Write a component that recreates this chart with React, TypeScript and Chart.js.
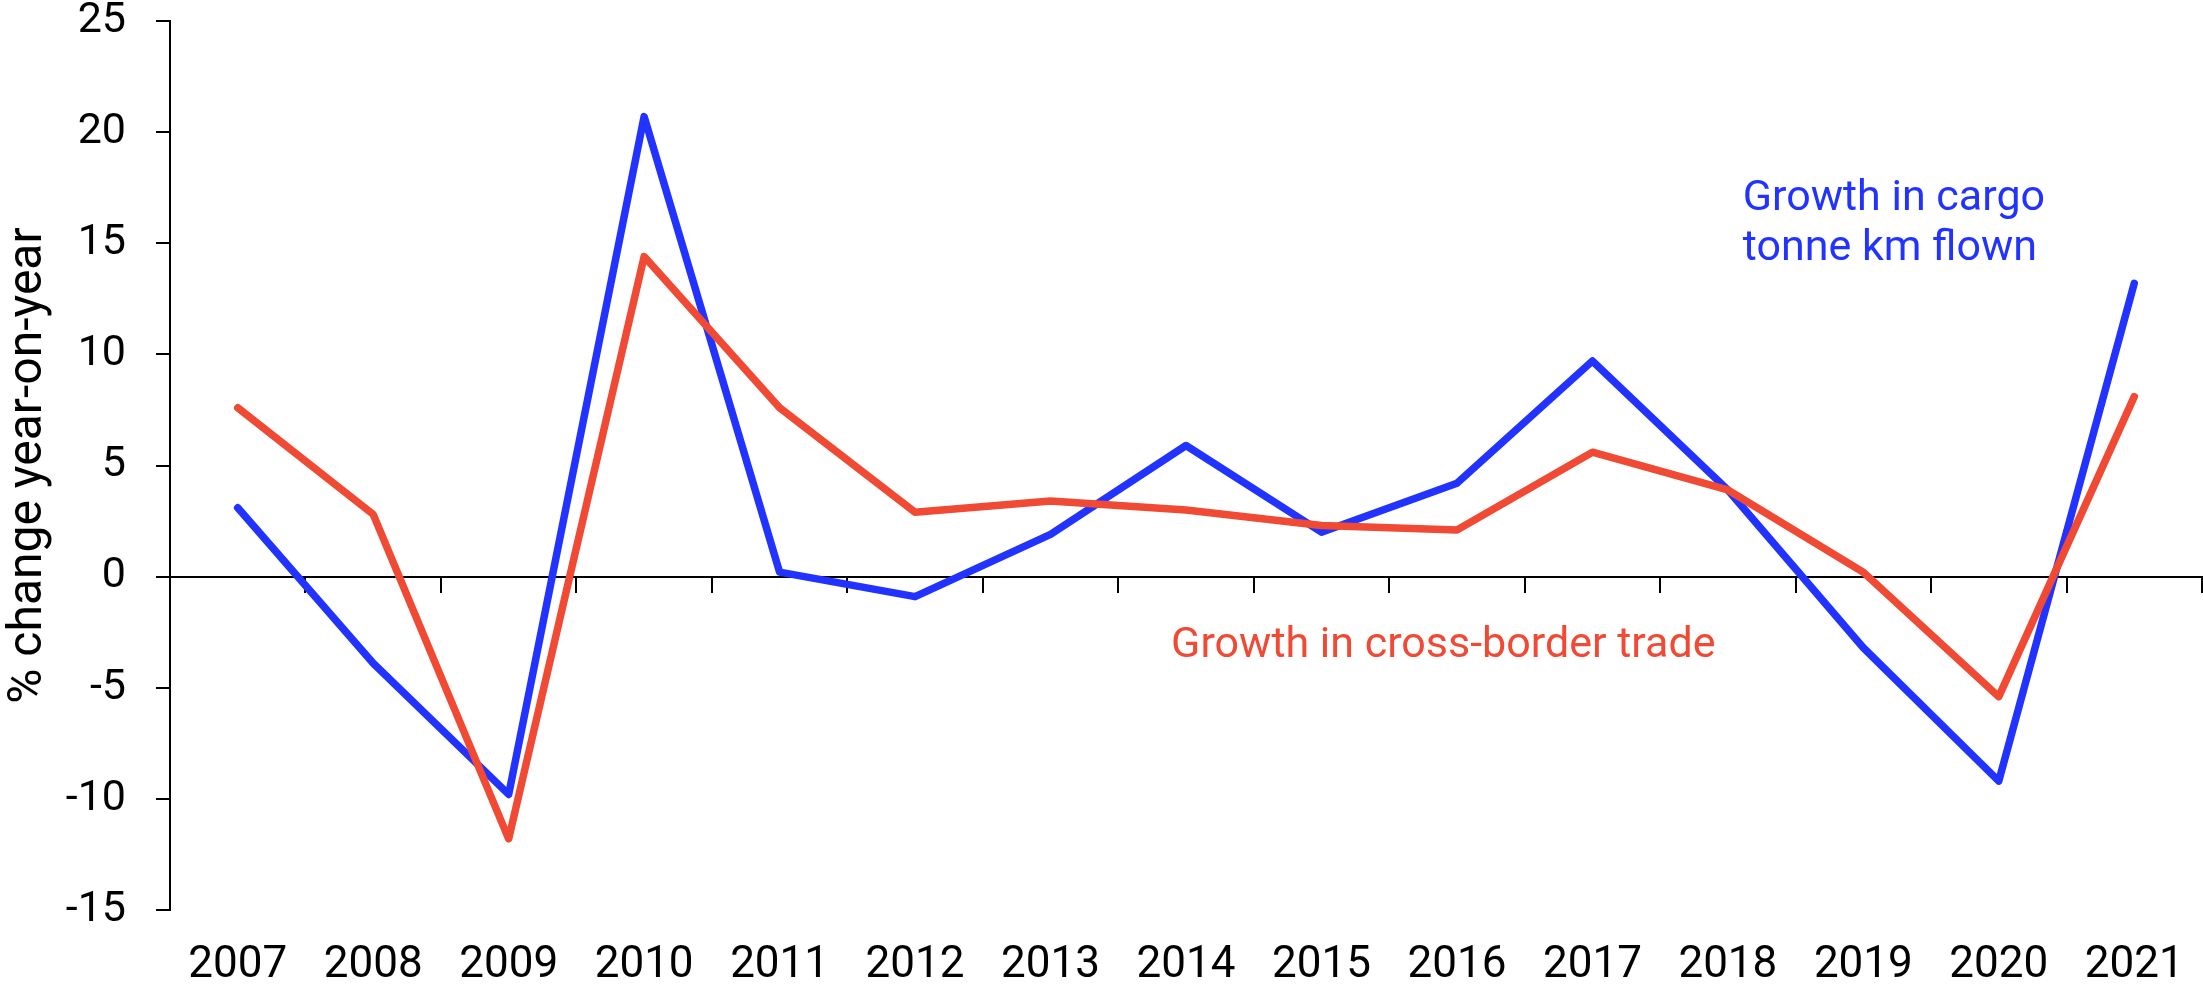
import React, { useEffect, useRef } from "react";
import { Chart, registerables } from "chart.js";

Chart.register(...registerables);

const years = ["2007","2008","2009","2010","2011","2012","2013","2014","2015","2016","2017","2018","2019","2020","2021"];
const cargoGrowth = [3.1, -3.9, -9.8, 20.7, 0.2, -0.9, 1.9, 5.9, 2.0, 4.2, 9.7, 3.9, -3.2, -9.2, 13.2];
const tradeGrowth = [7.6, 2.8, -11.8, 14.4, 7.6, 2.9, 3.4, 3.0, 2.3, 2.1, 5.6, 3.9, 0.2, -5.4, 8.1];
const yTitle = "% change year-on-year";

const BLUE = "#2233FF";
const RED = "#F04934";

const cargoLabelLines = ["Growth in cargo", "tonne km flown"];
const tradeLabelLines = ["Growth in cross-border trade"];

const FONT = "Roboto, 'Liberation Sans', Arial, sans-serif";

const annotationPlugin = {
  id: "lineLabels",
  afterDatasetsDraw(chart: any) {
    const { ctx, scales } = chart;
    const x = scales.x;
    const y = scales.y;
    ctx.save();
    ctx.font = `43px ${FONT}`;
    ctx.textAlign = "left";
    ctx.textBaseline = "alphabetic";
    ctx.fillStyle = BLUE;
    const bx = x.getPixelForValue(11.11);
    const by = y.getPixelForValue(16.5);
    cargoLabelLines.forEach((t, i) => ctx.fillText(t, bx, by + i * 50));
    ctx.fillStyle = RED;
    const rx = x.getPixelForValue(6.89);
    const ry = y.getPixelForValue(-3.6);
    tradeLabelLines.forEach((t, i) => ctx.fillText(t, rx, ry + i * 50));
    ctx.restore();
  },
};

export default function App() {
  const ref = useRef<HTMLCanvasElement | null>(null);
  useEffect(() => {
    if (!ref.current) return;
    const chart = new Chart(ref.current, {
      type: "line",
      data: {
        labels: years,
        datasets: [
          {
            label: "Growth in cross-border trade",
            data: tradeGrowth,
            borderColor: RED,
            backgroundColor: RED,
            borderWidth: 7.5,
            pointRadius: 0,
            tension: 0,
            borderCapStyle: "round",
            borderJoinStyle: "round",
          },
          {
            label: "Growth in cargo tonne km flown",
            data: cargoGrowth,
            borderColor: BLUE,
            backgroundColor: BLUE,
            borderWidth: 7.5,
            pointRadius: 0,
            tension: 0,
            borderCapStyle: "round",
            borderJoinStyle: "round",
          },
        ],
      },
      options: {
        responsive: false,
        animation: false,
        devicePixelRatio: 1,
        layout: { padding: { top: 21, right: 1, bottom: 0, left: 0 } },
        plugins: {
          legend: { display: false },
          tooltip: { enabled: false },
        },
        scales: {
          x: {
            type: "category",
            position: "bottom",
            offset: true,
            grid: { display: false, drawTicks: false },
            border: { display: false },
            ticks: {
              color: "#000",
              font: { family: FONT, size: 44 },
              padding: 30,
              maxRotation: 0,
              autoSkip: false,
            },
            afterFit: (s: any) => {
              s.height = 78;
              s.paddingLeft = 0;
              s.paddingRight = 0;
            },
          },
          x0: {
            type: "category",
            axis: "x",
            position: { y: 0 },
            offset: true,
            grid: {
              display: true,
              offset: true,
              drawOnChartArea: false,
              drawTicks: true,
              tickLength: 15,
              color: "#000",
              lineWidth: 2,
            },
            border: { display: true, color: "#000", width: 2 },
            ticks: { display: false },
          },
          y: {
            type: "linear",
            min: -15,
            max: 25,
            ticks: {
              stepSize: 5,
              color: "#000",
              font: { family: FONT, size: 43 },
              padding: 30,
            },
            grid: {
              drawOnChartArea: false,
              drawTicks: true,
              tickLength: 14,
              color: "#000",
              lineWidth: 2,
            },
            border: { display: true, color: "#000", width: 2 },
            title: {
              display: true,
              text: yTitle,
              color: "#000",
              font: { family: FONT, size: 48 },
              padding: { top: 0, bottom: 0 },
            },
            afterFit: (s: any) => {
              s.width = 170;
              s.paddingTop = 0;
              s.paddingBottom = 0;
            },
          },
        },
      },
      plugins: [annotationPlugin],
    });
    return () => chart.destroy();
  }, []);
  return (
    <div style={{ position: "absolute", left: 0, top: 0, width: 2203, height: 988, background: "#fff" }}>
      <canvas ref={ref} width={2203} height={988} style={{ display: "block" }} />
    </div>
  );
}
